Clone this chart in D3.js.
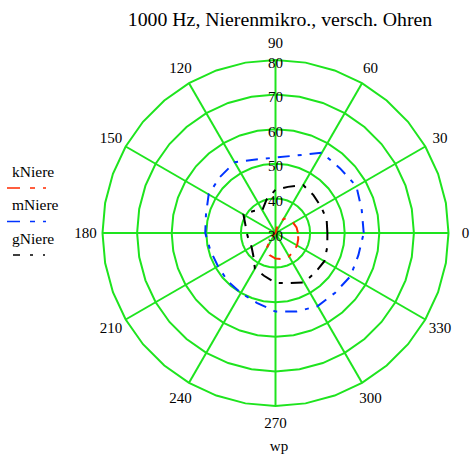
<!DOCTYPE html>
<html>
<head>
<meta charset="utf-8">
<script src="https://cdn.jsdelivr.net/npm/d3@7"></script>
<style>
  body { margin: 0; background: #fff; }
  text { font-family: "Liberation Serif", "Times New Roman", serif; fill: #000; }
</style>
</head>
<body>
<div id="chart"></div>
<script>
// angles in degrees (counter-clockwise from the right)
const angles = [0, 15, 30, 45, 60, 75, 90, 105, 120, 135, 150, 165,
                180, 195, 210, 225, 240, 255, 270, 285, 300, 315, 330, 345];
const kNiere = [36.5, 36.3, 35.9, 35.3, 34.8, 32, 30, 30, 30, 30, 30, 30,
                30, 30, 30, 31.8, 35, 36.6, 37.4, 37.8, 37.8, 37.4, 37.2, 36.8];
const mNiere = [55.5, 55.8, 57, 56.4, 56.8, 53.2, 51.8, 52, 53.6, 52.8, 52.3, 50.8,
                50.3, 49.5, 49.2, 49.6, 50, 50.9, 52.7, 53.5, 54.4, 54.4, 55, 54.8];
const gNiere = [45, 45.3, 45.2, 45.5, 46, 43.8, 42.5, 40, 37.6, 39, 40.7, 39,
                38.3, 38, 38, 39.1, 41.9, 42.8, 44.4, 45, 46.5, 46.2, 46.3, 45.5];

const ringValues = [40, 50, 60, 70, 80];
const radialTicks = [30, 40, 50, 60, 70, 80];
const angleTicks = [0, 30, 60, 90, 120, 150, 180, 210, 240, 270, 300, 330];
const seriesNames = ["kNiere", "mNiere", "gNiere"];
const seriesColors = ["#ff2a00", "#0033ff", "#000000"];

const width = 472, height = 457;
const cx = 275.5, cy = 233, R = 173;
const gridColor = "#1ee41e";

const svg = d3.select("#chart").append("svg")
  .attr("width", width)
  .attr("height", height);

const g = svg.append("g").attr("transform", `translate(${cx},${cy})`);

const rScale = d3.scaleLinear().domain([30, 80]).range([0, R]).clamp(true);
// d3 radial angle: clockwise from 12 o'clock
const toRad = deg => (90 - deg) * Math.PI / 180;

//grid rings drawn as polygons
const ringAngles = d3.range(0, 360, 10);
const ringLine = d3.lineRadial()
  .angle(a => toRad(a))
  .curve(d3.curveLinearClosed);

g.selectAll(".ring")
  .data(ringValues)
  .join("path")
  .attr("class", "ring")
  .attr("d", v => ringLine.radius(() => rScale(v))(ringAngles))
  .attr("fill", "none")
  .attr("stroke", gridColor)
  .attr("stroke-width", 2);

//spokes
g.selectAll(".spoke")
  .data(angleTicks)
  .join("line")
  .attr("class", "spoke")
  .attr("x1", 0).attr("y1", 0)
  .attr("x2", a => R * Math.cos(a * Math.PI / 180))
  .attr("y2", a => -R * Math.sin(a * Math.PI / 180))
  .attr("stroke", gridColor)
  .attr("stroke-width", 2);

//angle labels
g.selectAll(".alabel")
  .data(angleTicks)
  .join("text")
  .attr("class", "alabel")
  .attr("x", a => 190 * Math.cos(a * Math.PI / 180))
  .attr("y", a => -190 * Math.sin(a * Math.PI / 180))
  .attr("text-anchor", "middle")
  .attr("dominant-baseline", "central")
  .style("font-size", "15px")
  .text(a => a);

//series
const seriesData = [kNiere, mNiere, gNiere];
const dataLine = d3.lineRadial()
  .angle((d, i) => toRad(angles[i]))
  .radius(d => rScale(d))
  .curve(d3.curveLinearClosed);

g.selectAll(".series")
  .data(seriesData)
  .join("path")
  .attr("class", "series")
  .attr("d", d => dataLine(d))
  .attr("fill", "none")
  .attr("stroke", (d, i) => seriesColors[i])
  .attr("stroke-width", 2)
  .attr("stroke-dasharray", "12,8,4,8");

//radial labels along the 90 spoke
g.selectAll(".rlabel")
  .data(radialTicks)
  .join("text")
  .attr("class", "rlabel")
  .attr("x", 0)
  .attr("y", v => -rScale(v) + 2.5)
  .attr("text-anchor", "middle")
  .attr("dominant-baseline", "central")
  .style("font-size", "15px")
  .text(v => v);

//title and axis name
svg.append("text")
  .attr("x", 280).attr("y", 26)
  .attr("text-anchor", "middle")
  .style("font-size", "19.8px")
  .text("1000 Hz, Nierenmikro., versch. Ohren");

svg.append("text")
  .attr("x", 279).attr("y", 446)
  .attr("text-anchor", "middle")
  .attr("dominant-baseline", "central")
  .style("font-size", "15px")
  .text("wp");

//legend
const legend = svg.append("g").attr("class", "legend");
const legendDash = ["13,10,5,8,3,40", "13,10,5,8,3,40", "0,6,7,10,3,10,2,40"];
seriesNames.forEach((name, i) => {
  const y = 171 + i * 33.5;
  legend.append("text")
    .attr("x", 12).attr("y", y)
    .attr("dominant-baseline", "central")
    .style("font-size", "15.5px")
    .text(name);
  legend.append("line")
    .attr("x1", 7).attr("x2", 47)
    .attr("y1", y + 17).attr("y2", y + 17)
    .attr("stroke", seriesColors[i])
    .attr("stroke-width", 1.5)
    .attr("stroke-dasharray", legendDash[i]);
});
</script>
</body>
</html>
